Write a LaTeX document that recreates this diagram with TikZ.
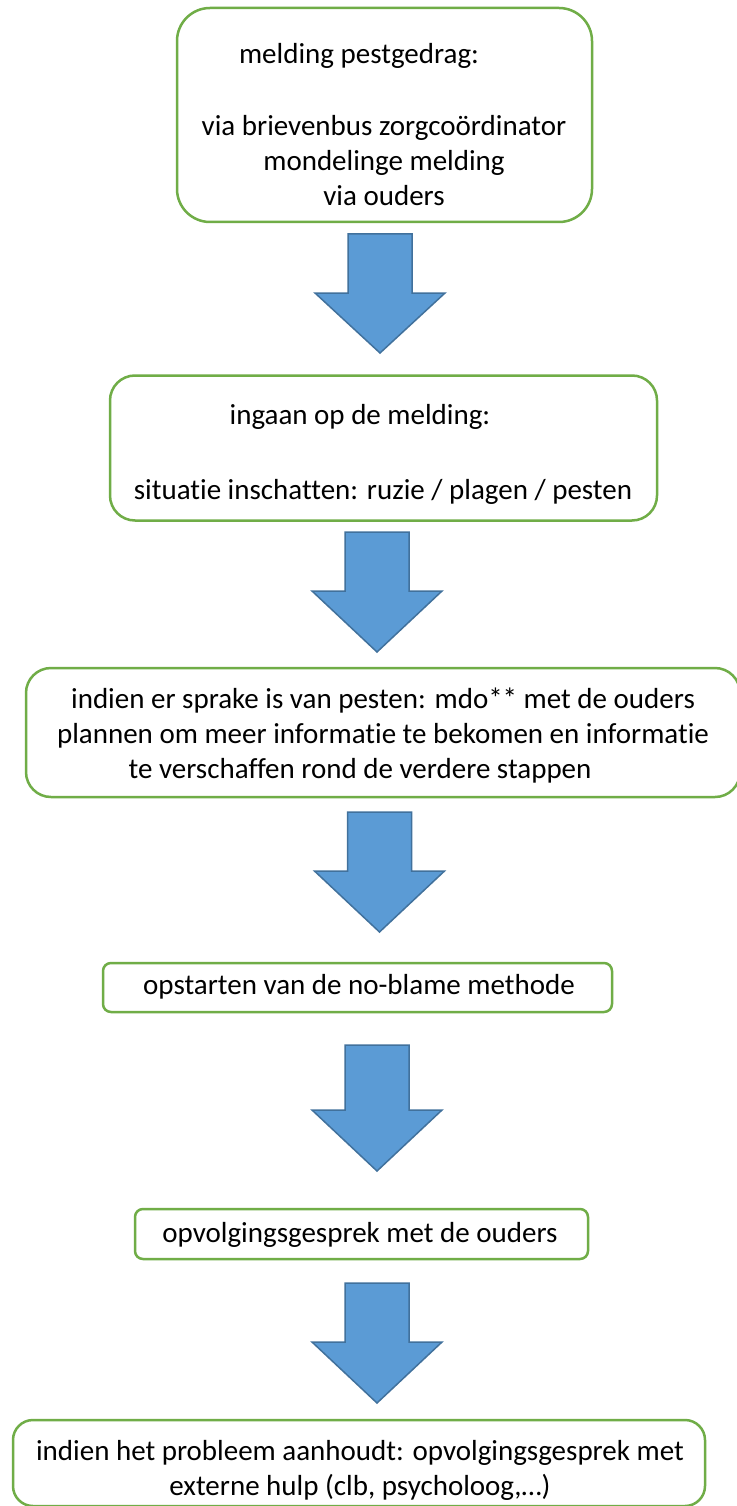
\documentclass[tikz,border=0pt]{standalone}
\usepackage{fontspec}
\setmainfont{Carlito}[Ligatures={NoCommon}]
\definecolor{boxgreen}{HTML}{70AD47}
\definecolor{arrowfill}{HTML}{5B9BD5}
\definecolor{arrowline}{HTML}{41719C}
\tikzset{
  box/.style={draw=boxgreen, line width=2.5pt, inner sep=0pt, fill=white},
  txt/.style={inner sep=0pt, align=center, font=\fontsize{29}{35}\selectfont, anchor=north},
  blockarrow/.style={fill=arrowfill, draw=arrowline, line width=1.5pt, line join=miter},
  pics/downarrow/.style 2 args={code={
    \draw[blockarrow] (-32,0) -- (32,0) -- (32,#1) -- (65,#1) -- (0,{#1+#2}) -- (-65,#1) -- (-32,#1) -- cycle;}}
}
\newcommand{\fstrut}{\rule{0pt}{24pt}}
\begin{document}
\begin{tikzpicture}[x=1pt,y=-1pt]
\useasboundingbox[fill=white] (0,0) rectangle (736,1506);

% boxes
\node[box, rounded corners=33pt, minimum width=415pt, minimum height=214pt] (b1) at (384.5,115) {};
\node[box, rounded corners=25pt, minimum width=547pt, minimum height=145pt] (b2) at (383.5,448) {};
\node[box, rounded corners=25pt, minimum width=714pt, minimum height=129pt] (b3) at (383,732.5) {};
\node[box, rounded corners=8pt, minimum width=509pt, minimum height=49pt] (b4) at (357.5,987.5) {};
\node[box, rounded corners=8pt, minimum width=453pt, minimum height=50pt] (b5) at (361.5,1234) {};
\node[box, rounded corners=20pt, minimum width=692pt, minimum height=86pt] (b6) at (359,1463) {};

% texts
\node[txt] (t1) at (384,39) {\fstrut melding pestgedrag:\rule{50pt}{0pt}\\[37pt]via brievenbus zorgco\"ordinator\\mondelinge melding\\via ouders};
\node[txt] (t2) at (383,400) {\fstrut ingaan op de melding:\rule{46pt}{0pt}\\[40pt]situatie inschatten: ruzie / plagen / pesten};
\node[txt] (t3) at (383,684) {\fstrut indien er sprake is van pesten: mdo** met de ouders\\plannen om meer informatie te bekomen en informatie\\te verschaffen rond de verdere stappen\rule{46pt}{0pt}};
\node[txt] (t4) at (359,970) {\fstrut opstarten van de no-blame methode};
\node[txt] (t5) at (360,1218) {\fstrut opvolgingsgesprek met de ouders};
\node[txt] (t6) at (360,1436) {\fstrut indien het probleem aanhoudt: opvolgingsgesprek met\\externe hulp (clb, psycholoog,…)};

% block arrows between boxes
\coordinate (a1) at (380,234);
\coordinate (a2) at (377,532);
\coordinate (a3) at (379.5,812);
\coordinate (a4) at (377,1045);
\coordinate (a5) at (377,1283);
\pic at (a1) {downarrow={59}{60}};
\pic at (a2) {downarrow={59}{61}};
\pic at (a3) {downarrow={59}{61}};
\pic at (a4) {downarrow={65}{61}};
\pic at (a5) {downarrow={59}{61}};
\end{tikzpicture}
\end{document}
